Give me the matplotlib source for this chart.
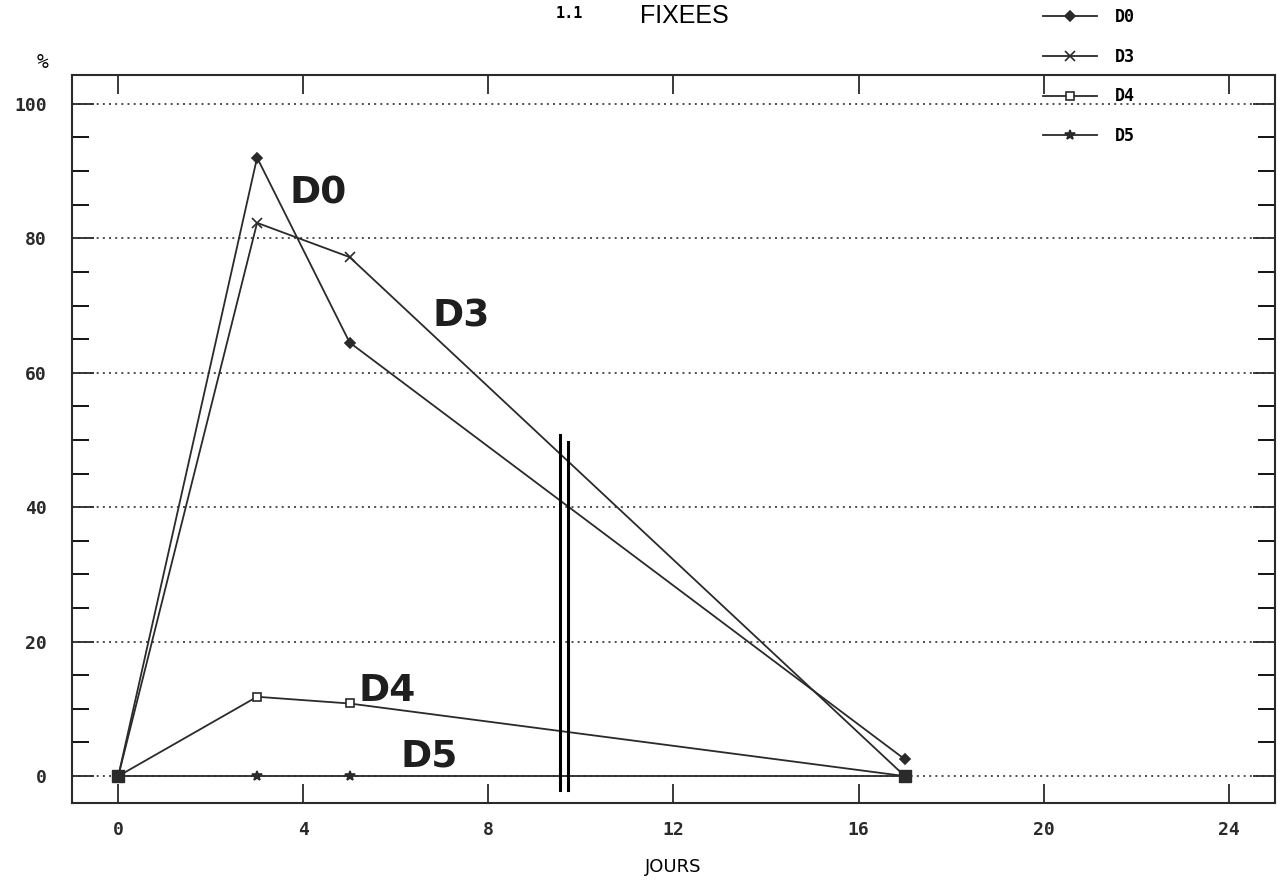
import numpy as np
import matplotlib.pyplot as plt
from matplotlib.ticker import MultipleLocator

# jours de mesure
jours = [0, 3, 5, 17]

# pourcentages par lot
d0 = [0, 92, 64.5, 2.5]
d3 = [0, 82.3, 77.2, 0]
d4 = [0, 11.8, 10.8, 0]
d5 = [0, 0, 0, 0]

noms = ["D0", "D3", "D4", "D5"]
marqueurs = ["D", "x", "s", "*"]

# notes a la main sur la courbe
notes = ["D0", "D3", "D4", "D5"]
notes_x = [3.7, 6.8, 5.2, 6.1]
notes_y = [84, 65.7, 10, 0.3]

# double trait vertical
traits_x = [9.54, 9.73]
traits_haut = [50.7, 49.7]
traits_bas = [-2.1, -2.1]

plt.rcParams['font.family'] = ['DejaVu Sans Mono']
col = '#2a2a2a'

fig = plt.figure(figsize=(12.77, 8.86), dpi=100)
ax = fig.add_axes([0.0564, 0.0937, 0.942, 0.8217])

series = [d0, d3, d4, d5]
for i in range(len(series)):
    mk = marqueurs[i]
    if mk == "s":
        ax.plot(jours, series[i], color=col, lw=1.3, marker=mk, ms=6,
                mfc='white', mec=col, mew=1.2, label=noms[i])
    else:
        ax.plot(jours, series[i], color=col, lw=1.3, marker=mk,
                ms=5 if mk == "D" else 7, mfc=col, mec=col, mew=1.2,
                label=noms[i])

# point commun en (0,0) et (17,0)
ax.plot([jours[0], jours[-1]], [0, 0], ls='none', marker='s', ms=8, color=col)

for i in range(len(traits_x)):
    ax.plot([traits_x[i], traits_x[i]], [traits_bas[i], traits_haut[i]],
            color='black', lw=2.2)

for i in range(len(notes)):
    ax.text(notes_x[i], notes_y[i], notes[i], fontsize=27, fontweight='bold',
            family='DejaVu Sans', color='#1e1e1e', va='bottom', ha='left')

ax.set_xlim(-1, 25)
ax.set_ylim(-4, 104.3)
ax.set_xticks(np.arange(0, 25, 4))
ax.set_yticks(np.arange(0, 101, 20))
ax.yaxis.set_minor_locator(MultipleLocator(5))
ax.yaxis.grid(True, which='major', ls=(0, (1.2, 2.5)), color='#333333', lw=1.2)
ax.tick_params(axis='both', which='major', direction='in', top=True, right=True,
               length=16, width=1.3, labelsize=13, pad=18, colors=col)
ax.tick_params(axis='y', which='minor', direction='in', right=True,
               length=12, width=1.3)
ax.tick_params(axis='x', which='major', length=14, pad=13)
for lab in ax.get_xticklabels() + ax.get_yticklabels():
    lab.set_fontweight('bold')
for sp in ax.spines.values():
    sp.set_linewidth(1.5)
    sp.set_color(col)

ax.set_xlabel("JOURS", fontsize=13, family='DejaVu Sans', labelpad=14)
fig.text(0.033, 0.93, "%", fontsize=14, ha='center', va='center')
fig.text(0.435, 0.985, "1.1", fontsize=11, fontweight='bold', ha='left', va='center')
fig.text(0.501, 0.982, "FIXEES", fontsize=18, family='Liberation Sans',
         ha='left', va='center')

leg = ax.legend(loc='upper left', bbox_to_anchor=(0.808, 1.004),
                bbox_transform=fig.transFigure, frameon=False, fontsize=12,
                handlelength=3.2, labelspacing=1.3, borderpad=0.2,
                handletextpad=1.1)
for t in leg.get_texts():
    t.set_fontweight('bold')

fig.savefig("out.png", dpi=100)
